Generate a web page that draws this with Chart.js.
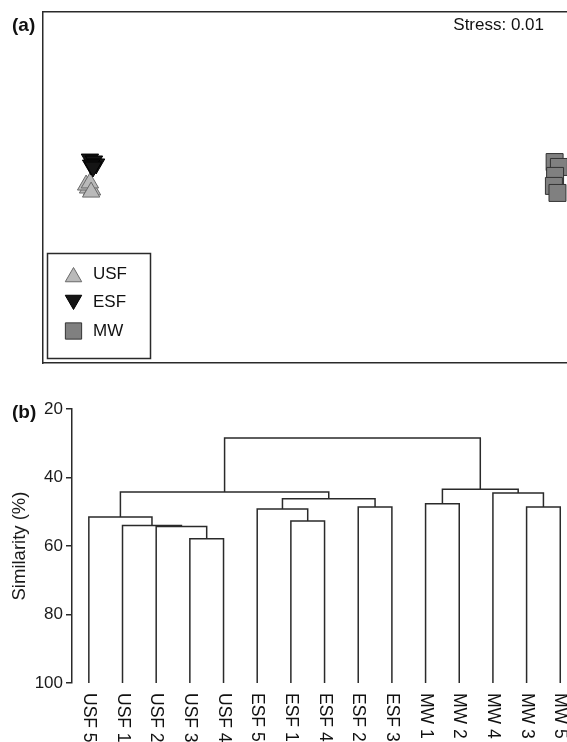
<!DOCTYPE html>
<html>
<head>
<meta charset="utf-8">
<script src="https://cdn.jsdelivr.net/npm/chart.js@4.4.1/dist/chart.umd.min.js"></script>
<style>
    body { margin: 0; background: #fff; }
    #wrap { width: 567px; height: 742px; overflow: hidden; }
    canvas { display: block; }
</style>
</head>
<body>
<div id="wrap">
    <canvas id="nmds" width="567" height="380"></canvas>
    <canvas id="dendro" width="567" height="362"></canvas>
</div>
<script>
'use strict'

/******************     DATA    ******************/

// (a) nMDS ordination, one pair of arrays per group
const groupNames = ['USF', 'ESF', 'MW'];
const usfX = [-1.011, -0.994, -1.019, -1.003, -0.998];
const usfY = [-0.003, -0.014, 0.014, 0.026, -0.026];
const esfX = [-1.003, -0.986, -0.977, -0.998, -0.990];
const esfY = [0.162, 0.151, 0.134, 0.128, 0.117];
const mwX = [0.948, 0.966, 0.950, 0.945, 0.960];
const mwY = [0.145, 0.117, 0.066, 0.009, -0.031];
const stressValue = 0.01;

// (b) cluster dendrogram: leaves in plot order, then merges (node 15 + k is made by merge k)
const leafLabels = ['USF 5', 'USF 1', 'USF 2', 'USF 3', 'USF 4', 'ESF 5', 'ESF 1', 'ESF 4',
    'ESF 2', 'ESF 3', 'MW 1', 'MW 2', 'MW 4', 'MW 3', 'MW 5'];
const mergeLeft = [3, 2, 1, 0, 6, 5, 8, 20, 18, 13, 10, 12, 25, 23];
const mergeRight = [4, 15, 16, 17, 7, 19, 9, 21, 22, 14, 11, 24, 26, 27];
const mergeSim = [57.9, 54.3, 54.0, 51.5, 52.7, 49.2, 48.6, 46.2, 44.2, 48.6, 47.7, 44.5, 43.4, 28.5];
const simTicks = [20, 40, 60, 80, 100];

/******************     SHARED STYLE    ******************/

const FONT = "'Liberation Sans', Arial, Helvetica, sans-serif";
const INK = '#2a2a2a';
const toPoints = (xs, ys) => xs.map((x, i) => ({ x: x, y: ys[i] }));

const labelPlugin = (text, x, y) => ({
    id: 'panelLabel' + text,
    afterDraw(chart) {
        const ctx = chart.ctx;
        ctx.save();
        ctx.font = 'bold 19px ' + FONT;
        ctx.fillStyle = '#111';
        ctx.textAlign = 'left';
        ctx.textBaseline = 'middle';
        ctx.fillText(text, x, y);
        ctx.restore();
    }
});

/******************     (a) NMDS    ******************/

const nmdsStyles = {
    USF: { pointStyle: 'triangle', rotation: 0, radius: 10, backgroundColor: '#b9b9b9', borderColor: '#6a6a6a' },
    ESF: { pointStyle: 'triangle', rotation: 180, radius: 10, backgroundColor: '#151515', borderColor: '#000' },
    MW: { pointStyle: 'rect', rotation: 0, radius: 12, backgroundColor: '#808080', borderColor: '#333' }
};

const nmdsSet = (name, pts, order) => ({
    label: name,
    data: pts,
    order: order,
    pointStyle: nmdsStyles[name].pointStyle,
    rotation: nmdsStyles[name].rotation,
    pointRadius: nmdsStyles[name].radius,
    pointHoverRadius: nmdsStyles[name].radius,
    backgroundColor: nmdsStyles[name].backgroundColor,
    borderColor: nmdsStyles[name].borderColor,
    borderWidth: 1
});

const nmdsLegend = {
    id: 'nmdsLegend',
    afterDraw(chart) {
        const ctx = chart.ctx;
        ctx.save();
        ctx.strokeStyle = INK;
        ctx.lineWidth = 1.5;
        ctx.strokeRect(47.5, 253.5, 103, 105);
        const rows = [277, 300, 331];
        const textRows = [274, 302, 331];
        groupNames.forEach((name, i) => {
            const st = nmdsStyles[name];
            ctx.fillStyle = st.backgroundColor;
            ctx.strokeStyle = st.borderColor;
            ctx.lineWidth = 1;
            Chart.helpers.drawPoint(ctx, {
                pointStyle: st.pointStyle,
                rotation: st.rotation,
                radius: st.pointStyle === 'rect' ? 11.5 : 9.5,
                borderWidth: 1
            }, 73.5, rows[i]);
            ctx.fillStyle = '#111';
            ctx.font = '17px ' + FONT;
            ctx.textAlign = 'left';
            ctx.textBaseline = 'middle';
            ctx.fillText(name, 93, textRows[i]);
        });
        ctx.font = '17px ' + FONT;
        ctx.textAlign = 'right';
        ctx.fillText('Stress: ' + stressValue.toFixed(2), 544, 25);
        ctx.restore();
    }
};

const frameAxis = (pos, min, max, fit) => ({
    type: 'linear',
    position: pos,
    min: min,
    max: max,
    ticks: { display: false },
    grid: { display: false },
    border: { display: true, color: INK, width: 1.5 },
    afterFit: fit
});

new Chart(document.getElementById('nmds'), {
    type: 'scatter',
    data: {
        datasets: [
            nmdsSet('USF', toPoints(usfX, usfY), 1),
            nmdsSet('ESF', toPoints(esfX, esfY), 0),
            nmdsSet('MW', toPoints(mwX, mwY), 2)
        ]
    },
    options: {
        responsive: false,
        animation: false,
        events: [],
        layout: { autoPadding: false, padding: { left: 43, top: 12, bottom: 17, right: 0 } },
        plugins: { legend: { display: false }, tooltip: { enabled: false } },
        scales: {
            x: frameAxis('bottom', -1.2, 1.0, (s) => { s.height = 0; }),
            xTop: frameAxis('top', -1.2, 1.0, (s) => { s.height = 0; }),
            y: frameAxis('left', -1, 1, (s) => { s.width = 0; })
        }
    },
    plugins: [nmdsLegend, labelPlugin('(a)', 12, 26)]
});

/******************     (b) DENDROGRAM    ******************/

const nodeX = leafLabels.map((l, i) => i);
const nodeH = leafLabels.map(() => 100);
const linkSets = mergeSim.map((h, k) => {
    const a = mergeLeft[k];
    const b = mergeRight[k];
    nodeX.push((nodeX[a] + nodeX[b]) / 2);
    nodeH.push(h);
    return {
        data: [
            { x: nodeX[a], y: nodeH[a] },
            { x: nodeX[a], y: h },
            { x: nodeX[b], y: h },
            { x: nodeX[b], y: nodeH[b] }
        ],
        showLine: true,
        borderColor: INK,
        borderWidth: 1.5,
        pointRadius: 0,
        tension: 0
    };
});

const leafTicks = {
    id: 'leafTicks',
    afterDraw(chart) {
        const ctx = chart.ctx;
        const xs = chart.scales.x;
        const y0 = chart.scales.y.getPixelForValue(100) + 10;
        ctx.save();
        ctx.font = '17.5px ' + FONT;
        ctx.fillStyle = '#111';
        ctx.textAlign = 'left';
        ctx.textBaseline = 'middle';
        leafLabels.forEach((lab, i) => {
            ctx.save();
            ctx.translate(xs.getPixelForValue(i), y0);
            ctx.rotate(Math.PI / 2);
            ctx.fillText(lab, 0, 0);
            ctx.restore();
        });
        ctx.restore();
    }
};

new Chart(document.getElementById('dendro'), {
    type: 'scatter',
    data: { datasets: linkSets },
    options: {
        responsive: false,
        animation: false,
        events: [],
        layout: { autoPadding: false, padding: { left: 0, top: 29, bottom: 59, right: 0 } },
        plugins: { legend: { display: false }, tooltip: { enabled: false } },
        scales: {
            x: { type: 'linear', display: false, min: -0.5, max: 14.2 },
            y: {
                type: 'linear',
                reverse: true,
                min: simTicks[0],
                max: simTicks[simTicks.length - 1],
                afterBuildTicks: (s) => { s.ticks = simTicks.map(v => ({ value: v })); },
                afterFit: (s) => { s.width = 72; },
                ticks: { color: '#1a1a1a', font: { family: FONT, size: 17 }, padding: 3 },
                grid: { display: true, drawOnChartArea: false, drawTicks: true, tickLength: 6, color: INK, lineWidth: 1.5 },
                border: { display: true, color: INK, width: 1.5 },
                title: {
                    display: true,
                    text: 'Similarity (%)',
                    color: '#1a1a1a',
                    font: { family: FONT, size: 18.5 },
                    padding: { top: 9, bottom: 0 }
                }
            }
        }
    },
    plugins: [leafTicks, labelPlugin('(b)', 12, 33)]
});
</script>
</body>
</html>
